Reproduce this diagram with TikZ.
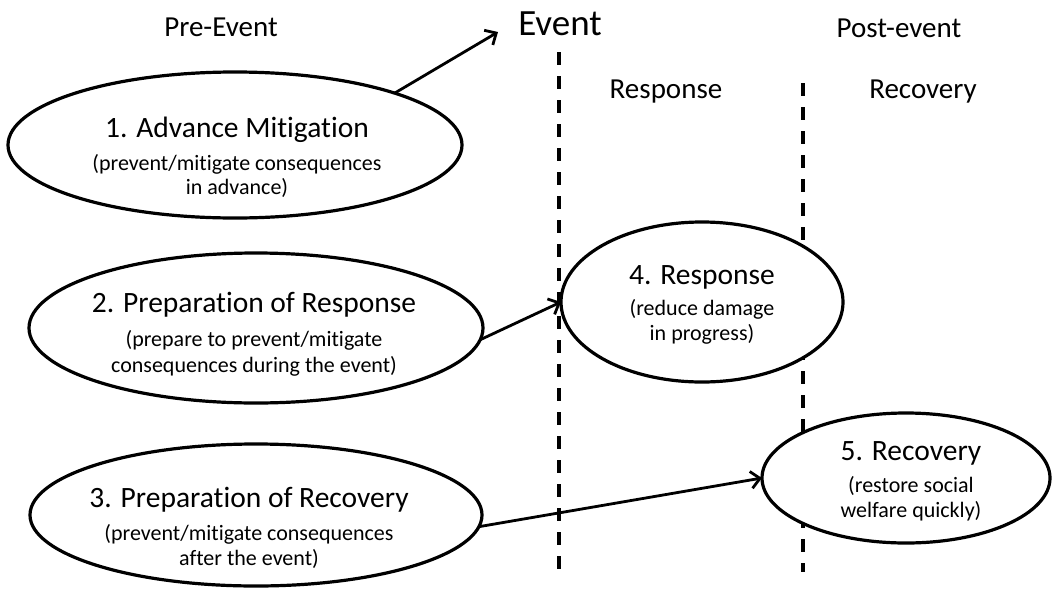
\documentclass[tikz,border=0pt]{standalone}
\usepackage{fontspec}
\setmainfont{Carlito}[Ligatures=NoCommon]
\usetikzlibrary{arrows.meta,shapes.geometric}
\begin{document}
\begin{tikzpicture}[x=1pt,y=-1pt,
  oval/.style={draw, ellipse, line width=3.2pt, fill=white, inner sep=0pt, outer sep=0pt},
  title/.style={anchor=base, inner sep=0pt, font=\fontsize{29.5}{31}\selectfont},
  sub/.style={anchor=base, inner sep=0pt, font=\fontsize{22}{24}\selectfont},
  head/.style={anchor=base, inner sep=0pt, font=\fontsize{29}{31}\selectfont},
  sep/.style={line width=3.6pt, dash pattern=on 13pt off 11pt},
  conn/.style={line width=2.8pt, -{Straight Barb[length=9pt,width=17pt,line width=2.8pt]}}]
\useasboundingbox (0,0) rectangle (1055,592);
\fill[white] (0,0) rectangle (1055,592);

% separators
\draw[sep] (559,52) -- (559,580);
\draw[sep] (803,83) -- (803,572);

% headers
\node[head] (pre) at (221,36) {Pre-Event};
\node[anchor=base, inner sep=0pt, font=\fontsize{37}{40}\selectfont] (event) at (560,35) {Event};
\node[head] (post) at (899,37) {Post-event};
\node[head] (hresp) at (666,98) {Response};
\node[head] (hrec) at (923,98) {Recovery};

% ellipses
\node[oval, minimum width=454pt, minimum height=146pt] (e1) at (235,145) {};
\node[oval, minimum width=454pt, minimum height=150pt] (e2) at (256,328) {};
\node[oval, minimum width=452pt, minimum height=142pt] (e3) at (256,515) {};
\node[oval, minimum width=282pt, minimum height=160pt] (e4) at (702,302) {};
\node[oval, minimum width=288pt, minimum height=130pt] (e5) at (906,478) {};

% texts
\node[title] (t1) at (237,137) {1. Advance Mitigation};
\node[sub] (t1a) at (237,170) {(prevent/mitigate consequences};
\node[sub] (t1b) at (237,194) {in advance)};

\node[title] (t2) at (254,312) {2. Preparation of Response};
\node[sub] (t2a) at (254,346) {(prepare to prevent/mitigate};
\node[sub] (t2b) at (254,372) {consequences during the event)};

\node[title] (t3) at (249,507) {3. Preparation of Recovery};
\node[sub] (t3a) at (249,540) {(prevent/mitigate consequences};
\node[sub] (t3b) at (249,565) {after the event)};

\node[title] (t4) at (702,284) {4. Response};
\node[sub] (t4a) at (702,315) {(reduce damage};
\node[sub] (t4b) at (702,340) {in progress)};

\node[title] (t5) at (911,460) {5. Recovery};
\node[sub] (t5a) at (911,492) {(restore social};
\node[sub] (t5b) at (911,517) {welfare quickly)};

% connectors
\coordinate (evtip) at (498,32);
\draw[conn] (e1.18) -- (evtip);
\draw[conn] (e2.-3) -- (e4.west);
\draw[conn] (e3.-3) -- (e5.west);
\end{tikzpicture}
\end{document}
